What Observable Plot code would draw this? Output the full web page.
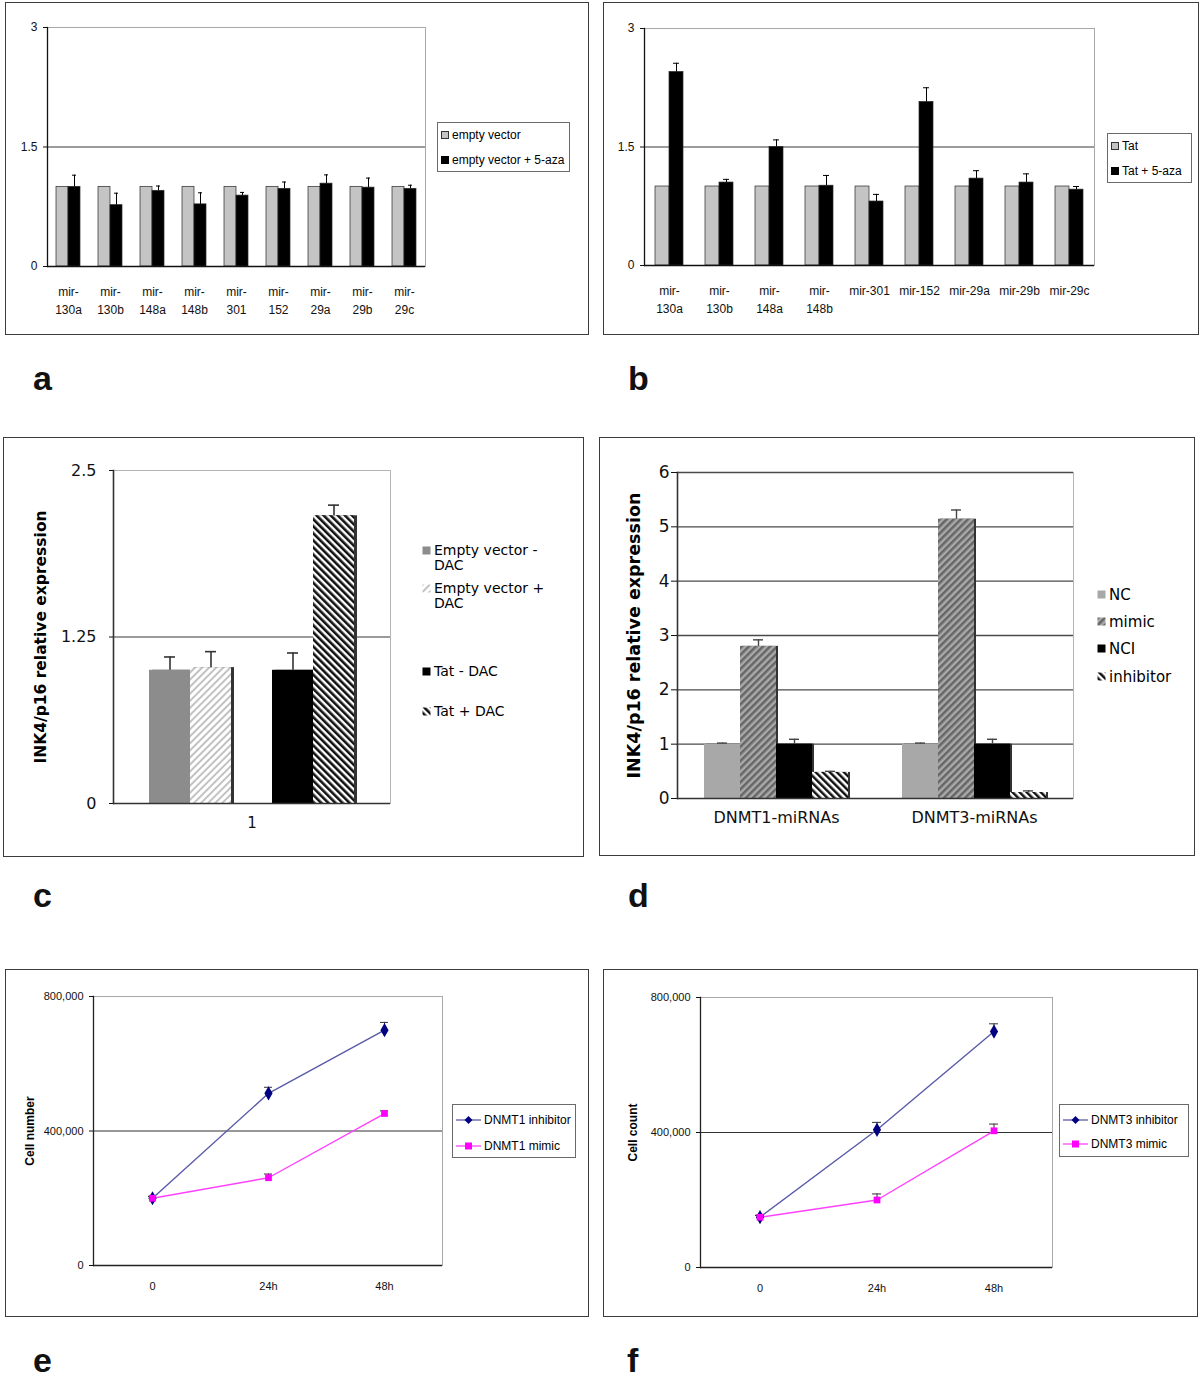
<!DOCTYPE html>
<html><head><meta charset="utf-8">
<script src="https://cdn.jsdelivr.net/npm/d3@7"></script>
<script src="https://cdn.jsdelivr.net/npm/@observablehq/plot@0.6"></script>
<style>
html,body{margin:0;padding:0;background:#fff;}
body{position:relative;width:1200px;height:1377px;overflow:hidden;}
.panel{position:absolute;border:1.5px solid #3c3c3c;box-sizing:border-box;}
.tag{position:absolute;font:bold 34px "Liberation Sans",Arial,sans-serif;line-height:40px;color:#111;}
.leg{position:absolute;color:#000;box-sizing:border-box;}
.row{position:absolute;display:flex;align-items:flex-start;}
</style></head><body>
<svg width="0" height="0" style="position:absolute">
<defs>
<pattern id="hatchLight" patternUnits="userSpaceOnUse" width="5" height="5" patternTransform="rotate(45)"><rect width="5" height="5" fill="#ffffff"/><rect width="2" height="5" fill="#c2c2c2"/></pattern>
<pattern id="hatchDense" patternUnits="userSpaceOnUse" width="5" height="5" patternTransform="rotate(-45)"><rect width="5" height="5" fill="#ffffff"/><rect width="2.6" height="5" fill="#111111"/></pattern>
<pattern id="hatchMimic" patternUnits="userSpaceOnUse" width="5" height="5" patternTransform="rotate(45)"><rect width="5" height="5" fill="#a9a9a9"/><rect width="2.5" height="5" fill="#666666"/></pattern>
<pattern id="hatchInh" patternUnits="userSpaceOnUse" width="5" height="5" patternTransform="rotate(-45)"><rect width="5" height="5" fill="#ffffff"/><rect width="2.5" height="5" fill="#111111"/></pattern>
</defs></svg>
<script>
// ---------- DATA ----------
// panel a
const catsA = ["mir-130a","mir-130b","mir-148a","mir-148b","mir-301","mir-152","mir-29a","mir-29b","mir-29c"];
const tickLabelsA = ["mir-\n130a","mir-\n130b","mir-\n148a","mir-\n148b","mir-\n301","mir-\n152","mir-\n29a","mir-\n29b","mir-\n29c"];
const seriesA = ["empty vector","empty vector + 5-aza"];
const emptyVectorA = [1,1,1,1,1,1,1,1,1];
const emptyVectorAzaA = [1.0,0.77,0.95,0.78,0.89,0.975,1.04,0.99,0.975];
const emptyVectorAzaErrA = [0.146,0.15,0.06,0.145,0.04,0.085,0.11,0.12,0.045];
const yTicksA = [0,1.5,3];
// panel b
const catsB = ["mir-130a","mir-130b","mir-148a","mir-148b","mir-301","mir-152","mir-29a","mir-29b","mir-29c"];
const tickLabelsB = ["mir-\n130a","mir-\n130b","mir-\n148a","mir-\n148b","mir-301","mir-152","mir-29a","mir-29b","mir-29c"];
const seriesB = ["Tat","Tat + 5-aza"];
const tatB = [1,1,1,1,1,1,1,1,1];
const tatAzaB = [2.45,1.05,1.5,1.01,0.81,2.07,1.1,1.05,0.96];
const tatAzaErrB = [0.11,0.04,0.09,0.13,0.09,0.18,0.1,0.11,0.04];
const yTicksB = [0,1.5,3];
// panel c
const groupC = "1";
const seriesC = ["Empty vector - DAC","Empty vector + DAC","Tat - DAC","Tat + DAC"];
const valuesC = [1.0,1.02,1.0,2.16];
const errC = [0.1,0.12,0.13,0.08];
const yTicksC = [0,1.25,2.5];
const yLabelC = "INK4/p16 relative expression";
// panel d
const groupsD = ["DNMT1-miRNAs","DNMT3-miRNAs"];
const seriesD = ["NC","mimic","NCI","inhibitor"];
const ncD = [1.0,1.0];        const ncErrD = [0.02,0.02];
const mimicD = [2.80,5.14];   const mimicErrD = [0.12,0.17];
const nciD = [1.0,1.0];       const nciErrD = [0.09,0.09];
const inhibitorD = [0.48,0.11]; const inhibitorErrD = [0.02,0.03];
const yTicksD = [0,1,2,3,4,5,6];
const yLabelD = "INK4/p16 relative expression";
// panel e
const timesE = ["0","24h","48h"];
const seriesE = ["DNMT1 inhibitor","DNMT1 mimic"];
const inhE = [200000,512000,700000]; const inhErrE = [5000,18000,23000];
const mimE = [200000,261000,452000]; const mimErrE = [6000,11000,8000];
const yTicksE = [0,400000,800000];
const yLabelE = "Cell number";
// panel f
const timesF = ["0","24h","48h"];
const seriesF = ["DNMT3 inhibitor","DNMT3 mimic"];
const inhF = [149000,408000,699000]; const inhErrF = [5000,22000,23000];
const mimF = [149000,200000,405000]; const mimErrF = [6000,18000,20000];
const yTicksF = [0,400000,800000];
const yLabelF = "Cell count";
const panelTags = ["a","b","c","d","e","f"];

// ---------- HELPERS ----------
const ARIAL = '"Liberation Sans", Arial, sans-serif';
const VERDANA = '"DejaVu Sans", Verdana, sans-serif';
const plain = d => String(d);
function place(el, left, top) {
  el.style.position = "absolute"; el.style.left = left + "px"; el.style.top = top + "px";
  document.body.appendChild(el);
}
function panelBox(l, t, r, b) {
  const d = document.createElement("div"); d.className = "panel";
  Object.assign(d.style, {left: l + "px", top: t + "px", width: (r - l) + "px", height: (b - t) + "px"});
  document.body.appendChild(d);
}
function tag(text, left, top) {
  const d = document.createElement("div"); d.className = "tag"; d.textContent = text;
  d.style.left = left + "px"; d.style.top = top + "px"; document.body.appendChild(d);
}
function legend({left, top, width, height, box, font, size, lh, items}) {
  const div = document.createElement("div"); div.className = "leg";
  div.style.cssText += `left:${left}px;top:${top}px;width:${width}px;height:${height}px;font-family:${font};font-size:${size}px;` +
    (box ? "border:1.5px solid #6a6a6a;" : "");
  for (const it of items) {
    const row = document.createElement("div"); row.className = "row";
    row.style.left = it.x + "px"; row.style.top = it.y + "px"; row.style.lineHeight = lh + "px";
    row.innerHTML = it.swatch;
    const span = document.createElement("span"); span.textContent = it.label;
    if (it.w) span.style.width = it.w + "px"; else span.style.whiteSpace = "nowrap";
    row.appendChild(span);
    div.appendChild(row);
  }
  document.body.appendChild(div);
}
const sq = (fill, s, stroke, mt) => `<svg width="${s + 3}" height="${s}" style="flex:none;margin-top:${mt}px"><rect x="0.5" y="0.5" width="${s - 1}" height="${s - 1}" fill="${fill}" ${stroke ? `stroke="${stroke}"` : ""}/></svg>`;
const lineSw = (color, mcolor, shape) => `<svg width="29" height="14" style="flex:none"><line x1="1" x2="26" y1="7" y2="7" stroke="${color}" stroke-width="1.3"/>` +
  (shape === "diamond" ? `<path d="M13.5,3 L17.5,7 L13.5,11 L9.5,7 Z" fill="${mcolor}"/>` : `<rect x="10" y="3.5" width="7" height="7" fill="${mcolor}"/>`) + `</svg>`;

// ---------- PANELS a, b ----------
function mirPanel({cats, labels, series, base, treat, treatErr, yTicks, left, top, width, height, ml, mr, mt, mb, padOuter}) {
  const data = cats.flatMap((c, i) => [
    {cat: c, series: series[0], value: base[i], err: 0},
    {cat: c, series: series[1], value: treat[i], err: treatErr[i]}]);
  const withErr = data.filter(d => d.err > 0);
  const chart = Plot.plot({
    width, height, marginLeft: ml, marginRight: mr, marginTop: mt, marginBottom: mb,
    style: {fontFamily: ARIAL, background: "transparent", color: "#111", overflow: "visible"},
    fx: {domain: cats, padding: 0},
    x: {domain: series, paddingInner: 0, paddingOuter: padOuter, axis: null},
    y: {domain: [0, 3]},
    color: {domain: series, range: ["#c4c4c4", "#000000"]},
    marks: [
      Plot.frame({facet: "super", stroke: "#a8a8a8"}),
      Plot.gridY([yTicks[1]], {stroke: "#3a3a3a", strokeOpacity: 1, strokeWidth: 1.2}),
      Plot.barY(data, {fx: "cat", x: "series", y: "value", fill: "series", stroke: "#2a2a2a", strokeWidth: 0.7}),
      Plot.ruleX(withErr, {fx: "cat", x: "series", y1: "value", y2: d => d.value + d.err, stroke: "#000"}),
      Plot.tickY(withErr, {fx: "cat", x: "series", y: d => d.value + d.err, stroke: "#000", insetLeft: 4, insetRight: 4}),
      Plot.ruleY([0], {stroke: "#111", strokeWidth: 1.3}),
      Plot.frame({facet: "super", anchor: "left", stroke: "#111", strokeWidth: 1.3}),
      Plot.axisY({ticks: yTicks, tickSize: 4, tickPadding: 6, fontSize: 12, label: null, tickFormat: plain}),
      Plot.axisFx({anchor: "bottom", tickSize: 0, tickPadding: 16, fontSize: 12, lineHeight: 1.55, label: null,
        tickFormat: d => labels[cats.indexOf(d)]})
    ]
  });
  place(chart, left, top);
}
panelBox(5, 2, 589, 335);
mirPanel({cats: catsA, labels: tickLabelsA, series: seriesA, base: emptyVectorA, treat: emptyVectorAzaA, treatErr: emptyVectorAzaErrA,
  yTicks: yTicksA, left: 7, top: 4, width: 428, height: 326, ml: 38, mr: 8, mt: 23, mb: 64, padOuter: 0.66});
legend({left: 437, top: 122, width: 133, height: 50, box: true, font: ARIAL, size: 12, lh: 14, items: [
  {x: 3, y: 5, label: seriesA[0], swatch: sq("#c4c4c4", 8, "#333", 3)},
  {x: 3, y: 30, label: seriesA[1], swatch: sq("#000", 8, "#000", 3)}]});

panelBox(603, 2, 1199, 335);
mirPanel({cats: catsB, labels: tickLabelsB, series: seriesB, base: tatB, treat: tatAzaB, treatErr: tatAzaErrB,
  yTicks: yTicksB, left: 605, top: 4, width: 498, height: 326, ml: 35, mr: 5, mt: 24, mb: 65, padOuter: 0.75});
legend({left: 1107, top: 133, width: 85, height: 50, box: true, font: ARIAL, size: 12, lh: 14, items: [
  {x: 3, y: 5, label: seriesB[0], swatch: sq("#c4c4c4", 8, "#333", 3)},
  {x: 3, y: 30, label: seriesB[1], swatch: sq("#000", 8, "#000", 3)}]});

// ---------- PANEL c ----------
panelBox(3, 437, 584, 857);
{
  const data = seriesC.map((s, i) => ({grp: groupC, series: s, value: valuesC[i], err: errC[i]}));
  const chart = Plot.plot({
    width: 398, height: 408, marginLeft: 108, marginRight: 13, marginTop: 31, marginBottom: 44,
    style: {fontFamily: VERDANA, background: "transparent", color: "#111", overflow: "visible"},
    fx: {domain: [groupC], padding: 0},
    x: {domain: [seriesC[0], seriesC[1], "", seriesC[2], seriesC[3]], paddingInner: 0, paddingOuter: 0.8, axis: null},
    y: {domain: [0, 2.5]},
    color: {domain: seriesC, range: ["#8c8c8c", "url(#hatchLight)", "#000000", "url(#hatchDense)"]},
    marks: [
      Plot.frame({stroke: "#b4b4b4"}),
      Plot.gridY([yTicksC[1]], {stroke: "#7a7a7a", strokeOpacity: 1, strokeWidth: 1.3}),
      Plot.barY(data, {fx: "grp", x: "series", y: "value", fill: "#333", dx: 3}),
      Plot.barY(data, {fx: "grp", x: "series", y: "value", fill: "series"}),
      Plot.ruleX(data, {fx: "grp", x: "series", y1: "value", y2: d => d.value + d.err, stroke: "#333", strokeWidth: 1.6}),
      Plot.tickY(data, {fx: "grp", x: "series", y: d => d.value + d.err, stroke: "#333", strokeWidth: 1.6, insetLeft: 15, insetRight: 15}),
      Plot.ruleY([0], {stroke: "#333", strokeWidth: 1.6}),
      Plot.frame({anchor: "left", stroke: "#333", strokeWidth: 1.6}),
      Plot.axisY({ticks: yTicksC, tickSize: 4, tickPadding: 13, fontSize: 16, label: null, tickFormat: plain}),
      Plot.axisFx({anchor: "bottom", tickSize: 0, tickPadding: 14, fontSize: 15, label: null}),
      Plot.text([yLabelC], {text: d => d, frameAnchor: "left", textAnchor: "middle", rotate: -90, dx: -72, fontSize: 15.5, fontWeight: "bold", fill: "#000"})
    ]
  });
  place(chart, 5, 439);
}
legend({left: 0, top: 0, width: 0, height: 0, box: false, font: VERDANA, size: 14, lh: 15, items: [
  {x: 422, y: 543, w: 130, label: seriesC[0], swatch: sq("#8c8c8c", 9, null, 3)},
  {x: 422, y: 581, w: 130, label: seriesC[1], swatch: sq("url(#hatchLight)", 9, null, 3)},
  {x: 422, y: 664, label: seriesC[2], swatch: sq("#000", 9, null, 3)},
  {x: 422, y: 704, label: seriesC[3], swatch: sq("url(#hatchDense)", 9, null, 3)}]});

// ---------- PANEL d ----------
panelBox(599, 437, 1195, 856);
{
  const vals = [ncD, mimicD, nciD, inhibitorD], errs = [ncErrD, mimicErrD, nciErrD, inhibitorErrD];
  const data = groupsD.flatMap((g, i) => seriesD.map((s, j) => ({grp: g, series: s, value: vals[j][i], err: errs[j][i]})));
  const chart = Plot.plot({
    width: 478, height: 408, marginLeft: 76, marginRight: 6, marginTop: 33, marginBottom: 49,
    style: {fontFamily: VERDANA, background: "transparent", color: "#111", overflow: "visible"},
    fx: {domain: groupsD, padding: 0},
    x: {domain: seriesD, paddingInner: 0, paddingOuter: 0.74, axis: null},
    y: {domain: [0, 6]},
    color: {domain: seriesD, range: ["#a8a8a8", "url(#hatchMimic)", "#000000", "url(#hatchInh)"]},
    marks: [
      Plot.frame({facet: "super", stroke: "#b4b4b4"}),
      Plot.gridY(yTicksD.slice(1), {stroke: "#4a4a4a", strokeOpacity: 1, strokeWidth: 1.4}),
      Plot.barY(data, {fx: "grp", x: "series", y: "value", fill: "#333", dx: 2}),
      Plot.barY(data, {fx: "grp", x: "series", y: "value", fill: "series"}),
      Plot.ruleX(data, {fx: "grp", x: "series", y1: "value", y2: d => d.value + d.err, stroke: "#444", strokeWidth: 1.4}),
      Plot.tickY(data, {fx: "grp", x: "series", y: d => d.value + d.err, stroke: "#444", strokeWidth: 1.4, insetLeft: 13, insetRight: 13}),
      Plot.ruleY([0], {stroke: "#333", strokeWidth: 1.6}),
      Plot.frame({facet: "super", anchor: "left", stroke: "#333", strokeWidth: 1.6}),
      Plot.axisY({ticks: yTicksD, tickSize: 6, tickPadding: 2, fontSize: 17, label: null, tickFormat: plain}),
      Plot.axisFx({anchor: "bottom", tickSize: 0, tickPadding: 13, fontSize: 16, label: null}),
      Plot.text([yLabelD], {facet: "super", text: d => d, frameAnchor: "left", textAnchor: "middle", rotate: -90, dx: -43, fontSize: 17.5, fontWeight: "bold", fill: "#000"})
    ]
  });
  place(chart, 601, 439);
}
legend({left: 0, top: 0, width: 0, height: 0, box: false, font: VERDANA, size: 15, lh: 18, items: [
  {x: 1097, y: 586, label: seriesD[0], swatch: sq("#a8a8a8", 9, null, 4)},
  {x: 1097, y: 613, label: seriesD[1], swatch: sq("url(#hatchMimic)", 9, null, 4)},
  {x: 1097, y: 640, label: seriesD[2], swatch: sq("#000", 9, null, 4)},
  {x: 1097, y: 668, label: seriesD[3], swatch: sq("url(#hatchInh)", 9, null, 4)}]});

// ---------- PANELS e, f ----------
function growthPanel({times, series, inh, inhErr, mim, mimErr, yTicks, yLabel, left, top, width, height, ml, mr, mt, mb, labelDx}) {
  const data = times.flatMap((t, i) => [
    {time: t, series: series[0], value: inh[i], err: inhErr[i]},
    {time: t, series: series[1], value: mim[i], err: mimErr[i]}]);
  const chart = Plot.plot({
    width, height, marginLeft: ml, marginRight: mr, marginTop: mt, marginBottom: mb,
    style: {fontFamily: ARIAL, background: "transparent", color: "#111", overflow: "visible"},
    x: {type: "band", domain: times, padding: 0},
    y: {domain: [0, 800000]},
    color: {domain: series, range: ["#5a5aaa", "#ff40ff"]},
    marks: [
      Plot.frame({stroke: "#a8a8a8"}),
      Plot.gridY([yTicks[1]], {stroke: "#333", strokeOpacity: 1, strokeWidth: 1.2}),
      Plot.ruleY([0], {stroke: "#222", strokeWidth: 1.3}),
      Plot.frame({anchor: "left", stroke: "#222", strokeWidth: 1.3}),
      Plot.line(data, {x: "time", y: "value", stroke: "series", strokeWidth: 1.4}),
      Plot.ruleX(data, {x: "time", y1: "value", y2: d => d.value + d.err, stroke: "#333"}),
      Plot.tickY(data, {x: "time", y: d => d.value + d.err, stroke: "#333", insetLeft: 54, insetRight: 54}),
      Plot.dot(data.filter(d => d.series === series[0]), {x: "time", y: "value", symbol: "diamond", r: 4.3, fill: "#000080"}),
      Plot.dot(data.filter(d => d.series === series[1]), {x: "time", y: "value", symbol: "square", r: 3.8, fill: "#ff00ff"}),
      Plot.axisY({ticks: yTicks, tickSize: 4, tickPadding: 6, fontSize: 11, tickFormat: d3.format(","), label: null}),
      Plot.axisX({tickSize: 0, tickPadding: 17, fontSize: 11, label: null}),
      Plot.text([yLabel], {text: d => d, frameAnchor: "left", textAnchor: "middle", rotate: -90, dx: labelDx, fontSize: 12, fontWeight: "bold", fill: "#000",
        style: "letter-spacing:2.6px"})
    ]
  });
  place(chart, left, top);
}
panelBox(5, 969, 589, 1317);
growthPanel({times: timesE, series: seriesE, inh: inhE, inhErr: inhErrE, mim: mimE, mimErr: mimErrE, yTicks: yTicksE, yLabel: yLabelE,
  left: 7, top: 971, width: 443, height: 338, ml: 86, mr: 8, mt: 25, mb: 44, labelDx: -63});
legend({left: 452, top: 1104, width: 124, height: 54, box: true, font: ARIAL, size: 12, lh: 14, items: [
  {x: 2, y: 8, label: seriesE[0], swatch: lineSw("#5a5aaa", "#000080", "diamond")},
  {x: 2, y: 34, label: seriesE[1], swatch: lineSw("#ff40ff", "#ff00ff", "square")}]});

panelBox(603, 969, 1198, 1317);
growthPanel({times: timesF, series: seriesF, inh: inhF, inhErr: inhErrF, mim: mimF, mimErr: mimErrF, yTicks: yTicksF, yLabel: yLabelF,
  left: 605, top: 971, width: 450, height: 338, ml: 95, mr: 3, mt: 26, mb: 42, labelDx: -67});
legend({left: 1059, top: 1104, width: 130, height: 53, box: true, font: ARIAL, size: 12, lh: 14, items: [
  {x: 2, y: 8, label: seriesF[0], swatch: lineSw("#5a5aaa", "#000080", "diamond")},
  {x: 2, y: 32, label: seriesF[1], swatch: lineSw("#ff40ff", "#ff00ff", "square")}]});

// ---------- TAGS ----------
tag(panelTags[0], 33, 358); tag(panelTags[1], 628, 358);
tag(panelTags[2], 33, 875); tag(panelTags[3], 628, 875);
tag(panelTags[4], 33, 1340); tag(panelTags[5], 627, 1340);
</script></body></html>
